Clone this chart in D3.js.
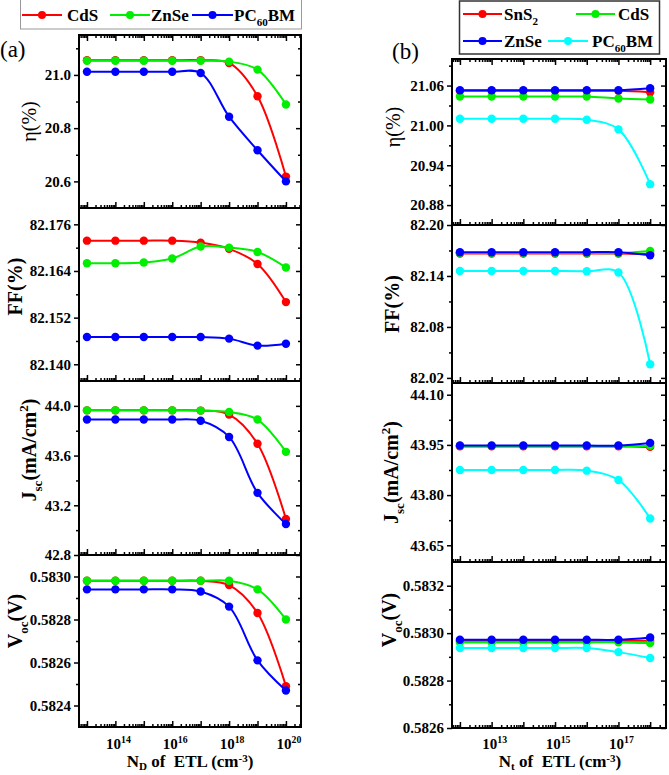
<!DOCTYPE html>
<html>
<head>
<meta charset="utf-8">
<script src="https://cdnjs.cloudflare.com/ajax/libs/d3/7.8.5/d3.min.js"></script>
<style>
  body { margin: 0; background: #fff; }
  svg { display: block; font-family: "Liberation Serif", "Times New Roman", serif; }
</style>
</head>
<body>
<svg width="669" height="775"></svg>
<script>
// ---------------- panel (a) data : N_D of ETL ----------------
const ndValues = [1e13, 1e14, 1e15, 1e16, 1e17, 1e18, 1e19, 1e20];
const ndTickLabels = [1e14, 1e16, 1e18, 1e20];

const etaA_CdS  = [21.055, 21.055, 21.055, 21.055, 21.055, 21.045, 20.92, 20.618];
const etaA_ZnSe = [21.053, 21.053, 21.053, 21.053, 21.053, 21.05, 21.02, 20.889];
const etaA_PCBM = [21.012, 21.012, 21.012, 21.012, 21.007, 20.843, 20.717, 20.60];

const ffA_CdS  = [82.1718, 82.1718, 82.1718, 82.1718, 82.1713, 82.1697, 82.1658, 82.1560];
const ffA_ZnSe = [82.1660, 82.1660, 82.1662, 82.1672, 82.1703, 82.1700, 82.1689, 82.1649];
const ffA_PCBM = [82.1470, 82.1470, 82.1470, 82.1470, 82.1470, 82.1466, 82.1448, 82.1453];

const jscA_CdS  = [43.964, 43.964, 43.964, 43.964, 43.962, 43.93, 43.695, 43.09];
const jscA_ZnSe = [43.964, 43.964, 43.964, 43.964, 43.962, 43.95, 43.89, 43.63];
const jscA_PCBM = [43.89, 43.89, 43.89, 43.89, 43.88, 43.75, 43.30, 43.05];

const vocA_CdS  = [0.58298, 0.58298, 0.58298, 0.58298, 0.58298, 0.58296, 0.58283, 0.58249];
const vocA_ZnSe = [0.58298, 0.58298, 0.58298, 0.58298, 0.58298, 0.58298, 0.58294, 0.58280];
const vocA_PCBM = [0.58294, 0.58294, 0.58294, 0.58294, 0.58293, 0.58286, 0.58261, 0.58247];

// ---------------- panel (b) data : N_t of ETL ----------------
const ntValues = [1e12, 1e13, 1e14, 1e15, 1e16, 1e17, 1e18];
const ntTickLabels = [1e13, 1e15, 1e17];

const etaB_SnS2 = [21.052, 21.052, 21.052, 21.052, 21.052, 21.052, 21.050];
const etaB_CdS  = [21.0435, 21.0435, 21.0435, 21.0435, 21.0435, 21.0405, 21.039];
const etaB_ZnSe = [21.053, 21.053, 21.053, 21.053, 21.053, 21.053, 21.056];
const etaB_PCBM = [21.010, 21.010, 21.010, 21.010, 21.0085, 20.994, 20.9115];

const ffB_SnS2 = [82.1664, 82.1664, 82.1664, 82.1664, 82.1664, 82.1664, 82.1660];
const ffB_CdS  = [82.1670, 82.1670, 82.1670, 82.1670, 82.1670, 82.1670, 82.1695];
const ffB_ZnSe = [82.1680, 82.1680, 82.1680, 82.1680, 82.1680, 82.1680, 82.1644];
const ffB_PCBM = [82.1458, 82.1458, 82.1458, 82.1458, 82.1455, 82.1440, 82.0360];

const jscB_SnS2 = [43.9455, 43.9455, 43.9455, 43.9455, 43.9455, 43.9455, 43.944];
const jscB_CdS  = [43.947, 43.947, 43.947, 43.947, 43.947, 43.947, 43.947];
const jscB_ZnSe = [43.948, 43.948, 43.948, 43.948, 43.948, 43.948, 43.956];
const jscB_PCBM = [43.875, 43.875, 43.875, 43.875, 43.873, 43.845, 43.73];

const vocB_SnS2 = [0.582968, 0.582968, 0.582968, 0.582968, 0.582968, 0.582968, 0.582968];
const vocB_CdS  = [0.582961, 0.582961, 0.582961, 0.582961, 0.582961, 0.582961, 0.582958];
const vocB_ZnSe = [0.582972, 0.582972, 0.582972, 0.582972, 0.582972, 0.582972, 0.582982];
const vocB_PCBM = [0.582937, 0.582937, 0.582937, 0.582937, 0.582937, 0.582920, 0.582895];

// legend names, as [text, "sub"/"sup"/""] pieces
const namesA = [[["CdS", ""]], [["ZnSe", ""]], [["PC", ""], ["60", "sub"], ["BM", ""]]];
const namesB = [[["SnS", ""], ["2", "sub"]], [["CdS", ""]], [["ZnSe", ""]], [["PC", ""], ["60", "sub"], ["BM", ""]]];
const colorsA = ["#ff0000", "#00ee00", "#0000ff"];
const colorsB = ["#ff0000", "#00ee00", "#0000ff", "#00ffff"];

const svg = d3.select("svg");

// writes pieces with sub / superscripts into a text element
function richText(sel, parts, size, supShift, subShift) {
  let shift = 0;
  parts.forEach(function(p) {
    const target = p[1] === "sub" ? size * (subShift || 0.28) : p[1] === "sup" ? -size * (supShift || 0.4) : 0;
    const t = sel.append("tspan").text(p[0]).attr("dy", target - shift);
    if (p[1]) t.attr("font-size", size * 0.65);
    shift = target;
  });
}

function minorLogTicks(domain) {
  const out = [];
  const lo = Math.floor(Math.log10(domain[0])), hi = Math.ceil(Math.log10(domain[1]));
  for (let e = lo; e < hi; e++) {
    for (let k = 2; k < 10; k++) {
      const v = k * Math.pow(10, e);
      if (v > domain[0] && v < domain[1]) out.push(v);
    }
  }
  return out;
}

/**
 * drawPanel()
 * @description draws one column of four stacked sub plots
 */
function drawPanel(p) {
  const x = d3.scaleLog().domain(p.xDomain).range([p.left, p.right]);
  const xMinor = minorLogTicks(p.xDomain);

  p.rows.forEach(function(row, i) {
    const top = p.bounds[i], bottom = p.bounds[i + 1];
    const y = d3.scaleLinear().domain(row.domain).range([bottom, top]);
    const g = svg.append("g");

    // left axis, ticks outward
    g.append("g").attr("transform", `translate(${p.left},0)`)
      .call(d3.axisLeft(y).tickValues(row.minor).tickSize(3).tickFormat(""));
    g.append("g").attr("transform", `translate(${p.left},0)`)
      .call(d3.axisLeft(y).tickValues(row.major).tickSize(5).tickPadding(3).tickFormat(d3.format(row.fmt)))
      .selectAll("text").attr("font-size", 15).attr("font-weight", "bold")
      .attr("font-family", "Liberation Serif").attr("fill", "#000");
    // right axis, ticks inward
    g.append("g").attr("transform", `translate(${p.right},0)`)
      .call(d3.axisLeft(y).tickValues(row.minor).tickSize(3).tickFormat(""));
    g.append("g").attr("transform", `translate(${p.right},0)`)
      .call(d3.axisLeft(y).tickValues(row.major).tickSize(5).tickFormat(""));
    // bottom axis, ticks inward
    g.append("g").attr("transform", `translate(0,${bottom})`)
      .call(d3.axisTop(x).tickValues(xMinor).tickSize(3).tickFormat(""));
    g.append("g").attr("transform", `translate(0,${bottom})`)
      .call(d3.axisTop(x).tickValues(p.xValues).tickSize(6).tickFormat(""));
    if (i === 0) {
      g.append("g").attr("transform", `translate(0,${top})`)
        .call(d3.axisBottom(x).tickValues(xMinor).tickSize(3).tickFormat(""));
      g.append("g").attr("transform", `translate(0,${top})`)
        .call(d3.axisBottom(x).tickValues(p.xValues).tickSize(6).tickFormat(""));
    }
    g.selectAll(".domain").remove();
    g.selectAll(".tick line").attr("stroke", "#000").attr("stroke-width", 1.5);

    // frame
    g.append("rect")
      .attr("x", p.left).attr("y", top)
      .attr("width", p.right - p.left).attr("height", bottom - top)
      .attr("fill", "none").attr("stroke", "#000").attr("stroke-width", 2);

    // series
    const line = d3.line()
      .x(function(d, j) { return x(p.xValues[j]); })
      .y(function(d) { return y(d); })
      .curve(d3.curveCatmullRom);
    row.series.forEach(function(s, k) {
      g.append("path").datum(s)
        .attr("d", line)
        .attr("fill", "none").attr("stroke", p.colors[k]).attr("stroke-width", 2);
      g.selectAll(null).data(s).enter().append("circle")
        .attr("cx", function(d, j) { return x(p.xValues[j]); })
        .attr("cy", function(d) { return y(d); })
        .attr("r", 4.2)
        .attr("fill", p.colors[k]);
    });

    // y title
    const t = svg.append("text")
      .attr("transform", `translate(${row.titleX},${(top + bottom) / 2 + (row.dy || 0)}) rotate(-90)`)
      .attr("text-anchor", "middle")
      .attr("font-size", 20)
      .attr("font-weight", row.bold ? "bold" : "normal");
    richText(t, row.title, 20);
  });

  // x tick labels : 10^n
  p.xLabels.forEach(function(v) {
    const t = svg.append("text")
      .attr("x", x(v) + 3).attr("y", 749)
      .attr("text-anchor", "middle")
      .attr("font-size", 15).attr("font-weight", "bold");
    richText(t, [["10", ""], [String(Math.round(Math.log10(v))), "sup"]], 15);
  });

  // x title
  const xt = svg.append("text")
    .attr("x", p.xTitleX).attr("y", 767)
    .attr("text-anchor", "middle")
    .attr("font-size", 17).attr("font-weight", "bold");
  richText(xt, p.xTitle, 17, 0.3, 0.2);
}

drawPanel({
  left: 79, right: 301,
  bounds: [35, 208, 381, 555, 727],
  xDomain: [Math.pow(10, 12.72), Math.pow(10, 20.53)],
  xValues: ndValues, xLabels: ndTickLabels, colors: colorsA,
  xTitle: [["N", ""], ["D", "sub"], [" of\u00a0\u00a0ETL (cm", ""], ["-3", "sup"], [")", ""]],
  xTitleX: 190,
  rows: [
    { series: [etaA_CdS, etaA_ZnSe, etaA_PCBM], domain: [20.5, 21.15],
      major: [20.6, 20.8, 21.0], minor: [20.7, 20.9, 21.1], fmt: ".1f",
      title: [["η(%)", ""]], titleX: 36, bold: false },
    { series: [ffA_CdS, ffA_ZnSe, ffA_PCBM], domain: [82.1357, 82.1802],
      major: [82.140, 82.152, 82.164, 82.176], minor: [82.146, 82.158, 82.170], fmt: ".3f",
      title: [["FF(%)", ""]], titleX: 22, bold: true, dy: -8 },
    { series: [jscA_CdS, jscA_ZnSe, jscA_PCBM], domain: [42.8, 44.2],
      major: [42.8, 43.2, 43.6, 44.0], minor: [43.0, 43.4, 43.8], fmt: ".1f",
      title: [["J", ""], ["sc", "sub"], ["(mA/cm", ""], ["2", "sup"], [")", ""]], titleX: 36, bold: true, dy: -18 },
    { series: [vocA_CdS, vocA_ZnSe, vocA_PCBM], domain: [0.5823, 0.58310],
      major: [0.5824, 0.5826, 0.5828, 0.5830], minor: [0.5825, 0.5827, 0.5829], fmt: ".4f",
      title: [["V", ""], ["oc", "sub"], ["(V)", ""]], titleX: 22, bold: true, dy: -20 }
  ]
});

drawPanel({
  left: 452, right: 666,
  bounds: [59, 225, 383, 562, 728],
  xDomain: [Math.pow(10, 11.75), Math.pow(10, 18.5)],
  xValues: ntValues, xLabels: ntTickLabels, colors: colorsB,
  xTitle: [["N", ""], ["t", "sub"], [" of\u00a0\u00a0ETL (cm", ""], ["-3", "sup"], [")", ""]],
  xTitleX: 560,
  rows: [
    { series: [etaB_SnS2, etaB_CdS, etaB_ZnSe, etaB_PCBM], domain: [20.85, 21.10],
      major: [20.88, 20.94, 21.00, 21.06], minor: [20.91, 20.97, 21.03, 21.09], fmt: ".2f",
      title: [["η(%)", ""]], titleX: 400, bold: false, dy: -15 },
    { series: [ffB_SnS2, ffB_CdS, ffB_ZnSe, ffB_PCBM], domain: [82.014, 82.20],
      major: [82.02, 82.08, 82.14, 82.20], minor: [82.05, 82.11, 82.17], fmt: ".2f",
      title: [["FF(%)", ""]], titleX: 399, bold: true },
    { series: [jscB_SnS2, jscB_CdS, jscB_ZnSe, jscB_PCBM], domain: [43.60, 44.135],
      major: [43.65, 43.80, 43.95, 44.10], minor: [43.725, 43.875, 44.025], fmt: ".2f",
      title: [["J", ""], ["sc", "sub"], ["(mA/cm", ""], ["2", "sup"], [")", ""]], titleX: 398, bold: true },
    { series: [vocB_SnS2, vocB_CdS, vocB_ZnSe, vocB_PCBM], domain: [0.5826, 0.5833],
      major: [0.5826, 0.5828, 0.5830, 0.5832], minor: [0.5827, 0.5829, 0.5831], fmt: ".4f",
      title: [["V", ""], ["oc", "sub"], ["(V)", ""]], titleX: 396, bold: true, dy: -25 }
  ]
});

// panel letters
svg.append("text").attr("x", 0).attr("y", 57).attr("font-size", 23).text("(a)");
svg.append("text").attr("x", 392).attr("y", 59).attr("font-size", 23).text("(b)");

// legend item : short line with a dot, then the name
function legendItem(x0, x1, yc, color, name, tx) {
  svg.append("line").attr("x1", x0).attr("x2", x1).attr("y1", yc).attr("y2", yc)
    .attr("stroke", color).attr("stroke-width", 2);
  svg.append("circle").attr("cx", (x0 + x1) / 2).attr("cy", yc).attr("r", 4).attr("fill", color);
  const t = svg.append("text").attr("x", tx).attr("y", yc + 6)
    .attr("font-size", 17).attr("font-weight", "bold");
  richText(t, name, 17);
}

// legend (a)
svg.append("rect").attr("x", 20.5).attr("y", -1).attr("width", 281).attr("height", 30)
  .attr("fill", "#fff").attr("stroke", "#999").attr("stroke-width", 1);
legendItem(22, 62, 15, colorsA[0], namesA[0], 67);
legendItem(110, 150, 15, colorsA[1], namesA[1], 151);
legendItem(192, 233, 15, colorsA[2], namesA[2], 234);

// legend (b)
svg.append("rect").attr("x", 459.5).attr("y", 1).attr("width", 200).attr("height", 53)
  .attr("fill", "#fff").attr("stroke", "#333").attr("stroke-width", 1.5);
legendItem(463, 502, 14, colorsB[0], namesB[0], 504);
legendItem(576, 615, 14, colorsB[1], namesB[1], 618);
legendItem(463, 502, 41, colorsB[2], namesB[2], 504);
legendItem(548, 588, 41, colorsB[3], namesB[3], 592);
</script>
</body>
</html>
